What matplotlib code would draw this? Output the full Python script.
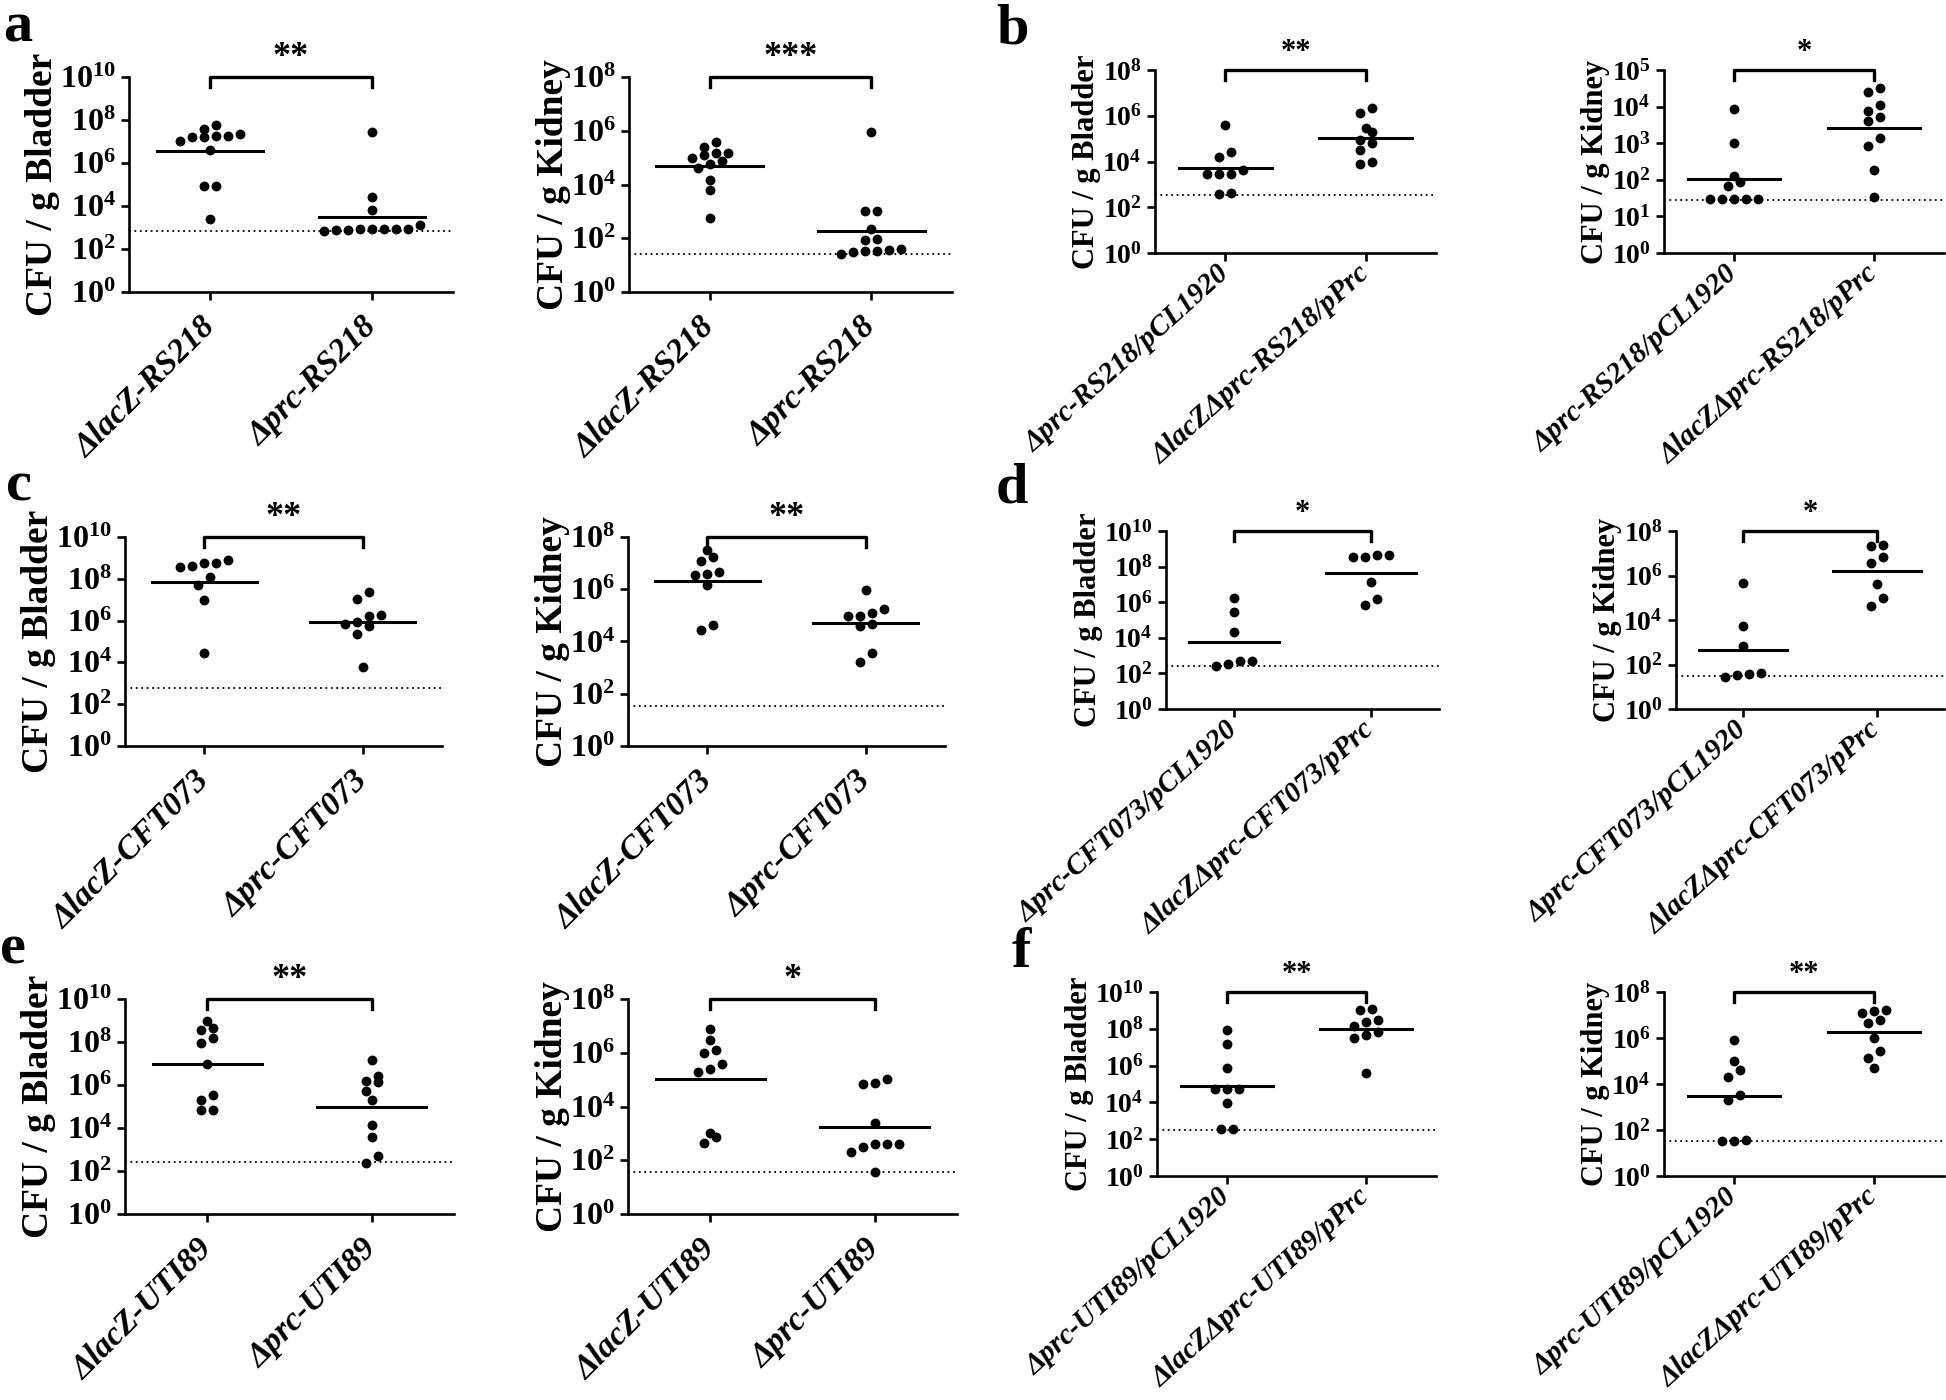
import numpy as np
import matplotlib
matplotlib.use("Agg")
import matplotlib.pyplot as plt
import matplotlib.transforms as mtransforms
from matplotlib.ticker import FixedLocator, FixedFormatter, NullLocator

plt.rcParams['font.family'] = 'Liberation Serif'
plt.rcParams['font.weight'] = 'bold'
plt.rcParams['mathtext.fontset'] = 'custom'
plt.rcParams['mathtext.rm'] = 'Liberation Serif:bold'
plt.rcParams['mathtext.it'] = 'Liberation Serif:bold:italic'
plt.rcParams['mathtext.bf'] = 'Liberation Serif:bold'

W, H = 1946, 1400

# log10 CFU per gram of tissue, one value per mouse
a_bladder_lacz = [7.58, 7.77, 7.19, 7.24, 7.24, 7.04, 7.35, 7.19, 6.59, 4.91, 4.91, 3.41]
a_bladder_prc = [7.44, 4.40, 3.81, 3.10, 2.91, 2.91, 2.87, 2.84, 2.87, 2.91, 2.91, 2.95]
a_kidney_lacz = [5.57, 5.41, 5.09, 5.19, 5.17, 4.98, 4.86, 4.78, 4.63, 4.17, 3.78, 2.74]
a_kidney_prc = [5.96, 3.00, 3.00, 2.35, 1.98, 1.93, 1.58, 1.52, 1.41, 1.49, 1.52, 1.59]
b_bladder_prc = [5.60, 4.42, 4.19, 3.61, 3.45, 3.45, 3.45, 2.62, 2.59]
b_bladder_comp = [6.36, 6.11, 5.45, 5.27, 4.95, 4.80, 4.51, 4.00, 3.90]
b_kidney_prc = [3.94, 3.00, 2.11, 1.95, 1.84, 1.47, 1.47, 1.47, 1.47, 1.47]
b_kidney_comp = [4.50, 4.39, 4.05, 3.88, 3.71, 3.62, 3.15, 2.93, 2.27, 1.53]
c_bladder_lacz = [8.75, 8.75, 8.63, 8.88, 8.56, 8.08, 7.72, 7.00, 4.44]
c_bladder_prc = [7.35, 7.03, 6.23, 6.28, 5.91, 5.85, 5.72, 5.37, 3.77]
c_kidney_lacz = [7.51, 7.09, 7.23, 6.66, 6.59, 6.56, 6.17, 4.64, 4.45]
c_kidney_prc = [5.98, 5.11, 5.25, 4.98, 4.68, 4.58, 4.98, 3.55, 3.23]
d_bladder_prc = [6.21, 5.47, 4.35, 2.67, 2.44, 2.54, 2.67]
d_bladder_comp = [8.64, 8.54, 8.54, 8.64, 7.15, 6.16, 5.84]
d_kidney_prc = [5.67, 3.75, 2.81, 1.58, 1.46, 1.54, 1.61]
d_kidney_comp = [7.39, 7.31, 6.84, 6.54, 5.64, 5.01, 4.63]
e_bladder_lacz = [8.99, 8.54, 8.65, 8.19, 7.95, 6.99, 5.52, 5.29, 4.85, 4.85]
e_bladder_prc = [7.18, 6.17, 6.12, 6.40, 5.74, 5.29, 4.16, 3.58, 2.71, 2.37]
e_kidney_lacz = [6.88, 6.48, 6.09, 5.99, 5.59, 5.39, 5.30, 3.03, 2.86, 2.63]
e_kidney_prc = [4.87, 5.02, 4.83, 3.38, 2.61, 2.48, 2.61, 2.61, 2.29, 1.55]
f_bladder_prc = [7.91, 7.16, 5.89, 4.71, 4.71, 4.71, 3.95, 2.53, 2.58]
f_bladder_comp = [9.09, 9.04, 8.49, 8.36, 8.16, 7.85, 7.67, 7.49, 5.58]
f_kidney_prc = [5.92, 5.00, 4.60, 4.32, 3.52, 3.30, 1.56, 1.51, 1.51]
f_kidney_comp = [7.16, 7.23, 7.08, 6.79, 6.65, 6.00, 5.44, 5.15, 4.71]

# detection limits (log10 CFU/g), bladder then kidney
lod_bladder = [2.85, 2.52, 2.76, 2.44, 2.40, 2.49]
lod_kidney = [1.42, 1.45, 1.55, 1.49, 1.55, 1.54]

# top decade of the y axis, bladder then kidney
ytop_bladder = [10, 8, 10, 10, 10, 10]
ytop_kidney = [8, 5, 8, 8, 8, 8]

stars_bladder = ['**', '**', '**', '*', '**', '**']
stars_kidney = ['***', '*', '**', '*', '*', '**']

group_labels = [
    ['ΔlacZ-RS218', 'Δprc-RS218'],
    ['Δprc-RS218/pCL1920', 'ΔlacZΔprc-RS218/pPrc'],
    ['ΔlacZ-CFT073', 'Δprc-CFT073'],
    ['Δprc-CFT073/pCL1920', 'ΔlacZΔprc-CFT073/pPrc'],
    ['ΔlacZ-UTI89', 'Δprc-UTI89'],
    ['Δprc-UTI89/pCL1920', 'ΔlacZΔprc-UTI89/pPrc'],
]
panel_letters = ['a', 'b', 'c', 'd', 'e', 'f']

bladder = [(a_bladder_lacz, a_bladder_prc), (b_bladder_prc, b_bladder_comp),
           (c_bladder_lacz, c_bladder_prc), (d_bladder_prc, d_bladder_comp),
           (e_bladder_lacz, e_bladder_prc), (f_bladder_prc, f_bladder_comp)]
kidney = [(a_kidney_lacz, a_kidney_prc), (b_kidney_prc, b_kidney_comp),
          (c_kidney_lacz, c_kidney_prc), (d_kidney_prc, d_kidney_comp),
          (e_kidney_lacz, e_kidney_prc), (f_kidney_prc, f_kidney_comp)]

# axes boxes in pixels: (left, top, right, bottom) for bladder, kidney
boxes = [
    ((129, 77, 453, 292), (629, 77, 952, 292)),
    ((1155, 70, 1436, 253), (1664, 70, 1944, 253)),
    ((125, 537, 442, 746), (628, 537, 945, 746)),
    ((1166, 531, 1439, 709), (1676, 531, 1944, 709)),
    ((125, 999, 454, 1214), (628, 999, 957, 1214)),
    ((1157, 992, 1436, 1176), (1664, 992, 1944, 1176)),
]
letter_pos = [(3, 42), (996, 43), (6, 500), (996, 503), (0, 963), (1012, 967)]


def swarm(ax, logs, top, step_px=12, thresh_px=9):
    bb = ax.bbox
    ppd = bb.height / top
    ppu = bb.width / 2.0
    ys = np.asarray(logs)
    rows = []
    for i in np.argsort(ys):
        if rows and (ys[i] - ys[rows[-1][0]]) * ppd < thresh_px:
            rows[-1].append(i)
        else:
            rows.append([i])
    off = np.zeros(len(ys))
    for row in rows:
        n = len(row)
        for k, i in enumerate(row):
            off[i] = (k - (n - 1) / 2) * step_px / ppu
    return off


def draw_panel(ax, groups, lod, top, organ, labels, stars, right):
    tick_fs = 20 if right else 23
    lab_fs = 22 if right else 27
    xl_fs = 21 if right else 24
    ax.set_yscale('log')
    ax.set_xlim(-0.5, 1.5)
    ax.set_ylim(1, 10.0 ** top)
    step = 1 if top <= 5 else 2
    exps = np.arange(0, top + 1, step)
    ax.yaxis.set_major_locator(FixedLocator(10.0 ** exps))
    ax.yaxis.set_major_formatter(FixedFormatter([r'$10^{%d}$' % k for k in exps]))
    ax.yaxis.set_minor_locator(NullLocator())

    for pos, vals in enumerate(groups):
        off = swarm(ax, vals, top)
        ax.scatter(pos + off, 10.0 ** np.asarray(vals), s=50, color='black',
                   zorder=3, linewidths=0, clip_on=False)
        gm = 10.0 ** np.mean(vals)
        ax.plot([pos - 0.33, pos + 0.33], [gm, gm], color='black', lw=2.2, zorder=4)

    ax.axhline(10.0 ** lod, color='black', lw=1.3, dashes=(1, 2.0), zorder=1)

    # significance bracket on top of the axes
    tr = mtransforms.blended_transform_factory(ax.transData, ax.transAxes)
    leg = 10.0 / ax.bbox.height
    ax.plot([0, 0, 1, 1], [1 - leg, 1, 1, 1 - leg], color='black', lw=2.4,
            transform=tr, clip_on=False)
    ax.text(0.5, 1 + 3.0 / ax.bbox.height, stars, transform=tr, ha='center',
            va='bottom', fontsize=22 if right else 26)

    for side in ['top', 'right']:
        ax.spines[side].set_visible(False)
    for side in ['left', 'bottom']:
        ax.spines[side].set_linewidth(1.9)
    ax.tick_params(direction='out', length=6, width=1.9, labelsize=tick_fs)
    ax.tick_params(axis='x', pad=6 if right else 16)
    ax.set_xticks([0, 1])
    ax.set_xticklabels(labels, rotation=42 if right else 45, ha='right',
                       va='center', rotation_mode='anchor', fontstyle='italic',
                       fontweight='bold', fontsize=xl_fs)
    ax.set_ylabel('CFU / g ' + organ, fontsize=lab_fs, fontweight='bold',
                  labelpad=1 if right else 0)


fig = plt.figure(figsize=(W / 100, H / 100), dpi=100)

for p in range(6):
    right = p % 2 == 1
    for j, (organ, data, lods, tops, stars) in enumerate([
            ('Bladder', bladder, lod_bladder, ytop_bladder, stars_bladder),
            ('Kidney', kidney, lod_kidney, ytop_kidney, stars_kidney)]):
        l, t, r, b = boxes[p][j]
        ax = fig.add_axes([l / W, 1 - b / H, (r - l) / W, (b - t) / H])
        draw_panel(ax, data[p], lods[p], tops[p], organ, group_labels[p],
                   stars[p], right)
    lx, ly = letter_pos[p]
    fig.text(lx / W, 1 - ly / H, panel_letters[p], fontsize=42,
             fontweight='bold', ha='left', va='baseline')

fig.savefig('out.png', dpi=100)
